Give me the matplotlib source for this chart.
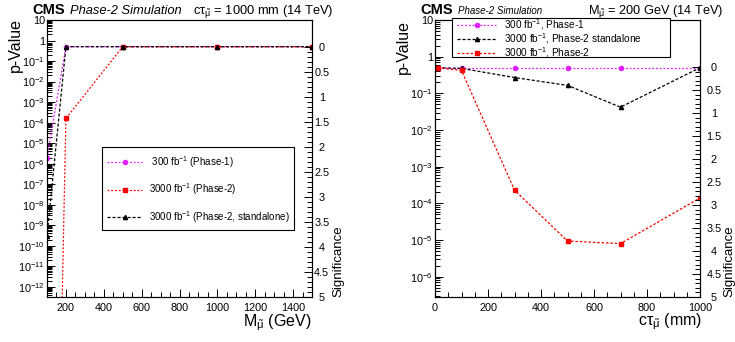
import numpy as np
import matplotlib
matplotlib.use('Agg')
import matplotlib.pyplot as plt
from matplotlib.ticker import LogLocator, FixedLocator, MultipleLocator, FuncFormatter, NullFormatter
from matplotlib.patches import Rectangle

plt.rcParams['font.family'] = ['Liberation Sans', 'DejaVu Sans']
plt.rcParams['mathtext.fontset'] = 'custom'
plt.rcParams['mathtext.rm'] = 'Liberation Sans'
plt.rcParams['mathtext.it'] = 'Liberation Sans:italic'
plt.rcParams['mathtext.bf'] = 'Liberation Sans:bold'
plt.rcParams['mathtext.default'] = 'regular'

# left panel: p-value vs smuon mass (ctau = 1000 mm)
mass = [100, 200, 500, 1000, 1500]
p_mass_ph1 = [2e-6, 0.5, 0.5, 0.5, 0.5]
p_mass_ph2 = [1e-48, 1.6e-4, 0.5, 0.5, 0.5]
p_mass_sa = [3e-10, 0.5, 0.5, 0.5, 0.5]

# right panel: p-value vs ctau (M = 200 GeV)
ctau = [10, 100, 300, 500, 700, 1000]
p_ctau_ph1 = [0.5, 0.5, 0.5, 0.5, 0.5, 0.5]
p_ctau_sa = [0.5, 0.48, 0.27, 0.165, 0.042, 0.5]
p_ctau_ph2 = [0.5, 0.42, 2.3e-4, 9.4e-6, 8e-6, 1.4e-4]

lbl_ph1_a = r'300 fb$^{-1}$ (Phase-1)'
lbl_ph2_a = r'3000 fb$^{-1}$ (Phase-2)'
lbl_sa_a = r'3000 fb$^{-1}$ (Phase-2, standalone)'
lbl_ph1_b = r'300 fb$^{-1}$, Phase-1'
lbl_sa_b = r'3000 fb$^{-1}$, Phase-2 standalone'
lbl_ph2_b = r'3000 fb$^{-1}$, Phase-2'

W, H = 735., 342.
MAG = '#e020ff'


def fx(x):
    return x / W


def fy(y):
    return 1 - y / H


def log_fmt(v, pos):
    e = int(round(np.log10(v)))
    if e == 1:
        return '10'
    if e == 0:
        return '1'
    return r'$10^{%d}$' % e


def style_axes(ax, ylim, xlim):
    ax.set_yscale('log')
    ax.set_ylim(*ylim)
    ax.set_xlim(*xlim)
    ax.yaxis.set_major_locator(LogLocator(base=10, numticks=100))
    ax.yaxis.set_minor_locator(LogLocator(base=10, subs=np.arange(2, 10) * 1.0, numticks=100))
    ax.yaxis.set_major_formatter(FuncFormatter(log_fmt))
    ax.yaxis.set_minor_formatter(NullFormatter())
    ax.xaxis.set_major_locator(MultipleLocator(200))
    ax.xaxis.set_minor_locator(MultipleLocator(50))
    ax.tick_params(which='both', direction='in', top=False, right=False, labelsize=7.8, width=0.7)
    ax.tick_params(which='major', length=6)
    ax.tick_params(which='minor', length=3.5)
    ax.tick_params(axis='y', pad=1.5)
    ax.tick_params(axis='x', pad=4)
    for s in ax.spines.values():
        s.set_linewidth(0.8)


def add_sig(ax, top, pad):
    s = ax.twinx()
    s.set_ylim(5, top)
    s.yaxis.set_major_locator(FixedLocator(np.arange(0, 5.01, 0.5)))
    s.yaxis.set_minor_locator(FixedLocator(np.arange(0, 5.01, 0.1)))
    s.yaxis.set_major_formatter(FuncFormatter(lambda v, p: '%g' % v))
    s.tick_params(which='both', direction='in', labelsize=7.8, width=0.7, pad=pad)
    s.tick_params(which='major', length=6)
    s.tick_params(which='minor', length=3.5)
    plt.setp(s.yaxis.get_majorticklabels(), ha='center')
    for sp in s.spines.values():
        sp.set_linewidth(0.8)
    return s


fig = plt.figure(figsize=(7.35, 3.42), dpi=100)
ax1 = fig.add_axes([fx(47), fy(297), 265 / W, 277 / H])
ax2 = fig.add_axes([fx(435), fy(297), 265 / W, 277 / H])

# ---- left panel ----
style_axes(ax1, (3.2e-13, 10), (100, 1500))
l1, = ax1.plot(mass, p_mass_ph1, color=MAG, ls=(0, (1.5, 1.5)), lw=0.9, marker='o', ms=3)
l2, = ax1.plot(mass, p_mass_ph2, color='red', ls=(0, (1.5, 1.5)), lw=0.9, marker='s', ms=3.5)
l3, = ax1.plot(mass, p_mass_sa, color='black', ls=(0, (2.5, 1.5)), lw=0.9, marker='^', ms=3)
add_sig(ax1, -0.54, 7)

fig.patches.append(Rectangle((fx(102), fy(230)), 192 / W, 83 / H, transform=fig.transFigure,
                             facecolor='white', edgecolor='black', lw=0.8, zorder=5))
leg1 = fig.legend([l1, l2, l3], [' ' + lbl_ph1_a, lbl_ph2_a, lbl_sa_a], loc='upper left',
                  bbox_to_anchor=(fx(107), fy(154)), frameon=False, fontsize=7,
                  borderpad=0, borderaxespad=0, handlelength=3.6, handletextpad=0.7,
                  labelspacing=1.2)
leg1.set_zorder(6)

fig.text(fx(32), fy(13.5), 'CMS', fontsize=10.5, fontweight='bold', va='baseline')
fig.text(fx(70), fy(13.5), 'Phase-2 Simulation', fontsize=9.3, style='italic', va='baseline')
fig.text(fx(193), fy(13.5), r'cτ$_{\tilde{\mu}}$ = 1000 mm (14 TeV)', fontsize=9.3, va='baseline')
fig.text(fx(15), fy(18), 'p-Value', fontsize=11.5, rotation=90, ha='center', va='top')
fig.text(fx(338), fy(297), 'Significance', fontsize=9.5, rotation=90, ha='center', va='bottom')
fig.text(fx(312), fy(323), r'M$_{\tilde{\mu}}$ (GeV)', fontsize=11.5, ha='right', va='center')

# ---- right panel ----
style_axes(ax2, (2.8e-7, 10), (0, 1000))
r1, = ax2.plot(ctau, p_ctau_ph1, color=MAG, ls=(0, (1.5, 1.5)), lw=0.9, marker='o', ms=3)
r2, = ax2.plot(ctau, p_ctau_sa, color='black', ls=(0, (2.5, 1.5)), lw=0.9, marker='^', ms=3)
r3, = ax2.plot(ctau, p_ctau_ph2, color='red', ls=(0, (2, 1.5)), lw=0.9, marker='s', ms=3.5)
add_sig(ax2, -1.02, 10)

fig.patches.append(Rectangle((fx(452), fy(57)), 218 / W, 39 / H, transform=fig.transFigure,
                             facecolor='white', edgecolor='black', lw=0.8, zorder=5))
leg2 = fig.legend([r1, r2, r3], [lbl_ph1_b, lbl_sa_b, lbl_ph2_b], loc='upper left',
                  bbox_to_anchor=(fx(457), fy(17.5)), frameon=False, fontsize=7.2,
                  borderpad=0, borderaxespad=0, handlelength=3.9, handletextpad=0.8,
                  labelspacing=-0.1)
leg2.set_zorder(6)

fig.text(fx(420), fy(13.5), 'CMS', fontsize=10.5, fontweight='bold', va='baseline')
fig.text(fx(458), fy(13.5), 'Phase-2 Simulation', fontsize=7, style='italic', va='baseline')
fig.text(fx(588), fy(13.5), r'M$_{\tilde{\mu}}$ = 200 GeV (14 TeV)', fontsize=9.2, va='baseline')
fig.text(fx(403), fy(20), 'p-Value', fontsize=11.5, rotation=90, ha='center', va='top')
fig.text(fx(729), fy(297), 'Significance', fontsize=9.5, rotation=90, ha='center', va='bottom')
fig.text(fx(702), fy(322), r'cτ$_{\tilde{\mu}}$ (mm)', fontsize=11.5, ha='right', va='center')

fig.savefig('out.png', dpi=100)
